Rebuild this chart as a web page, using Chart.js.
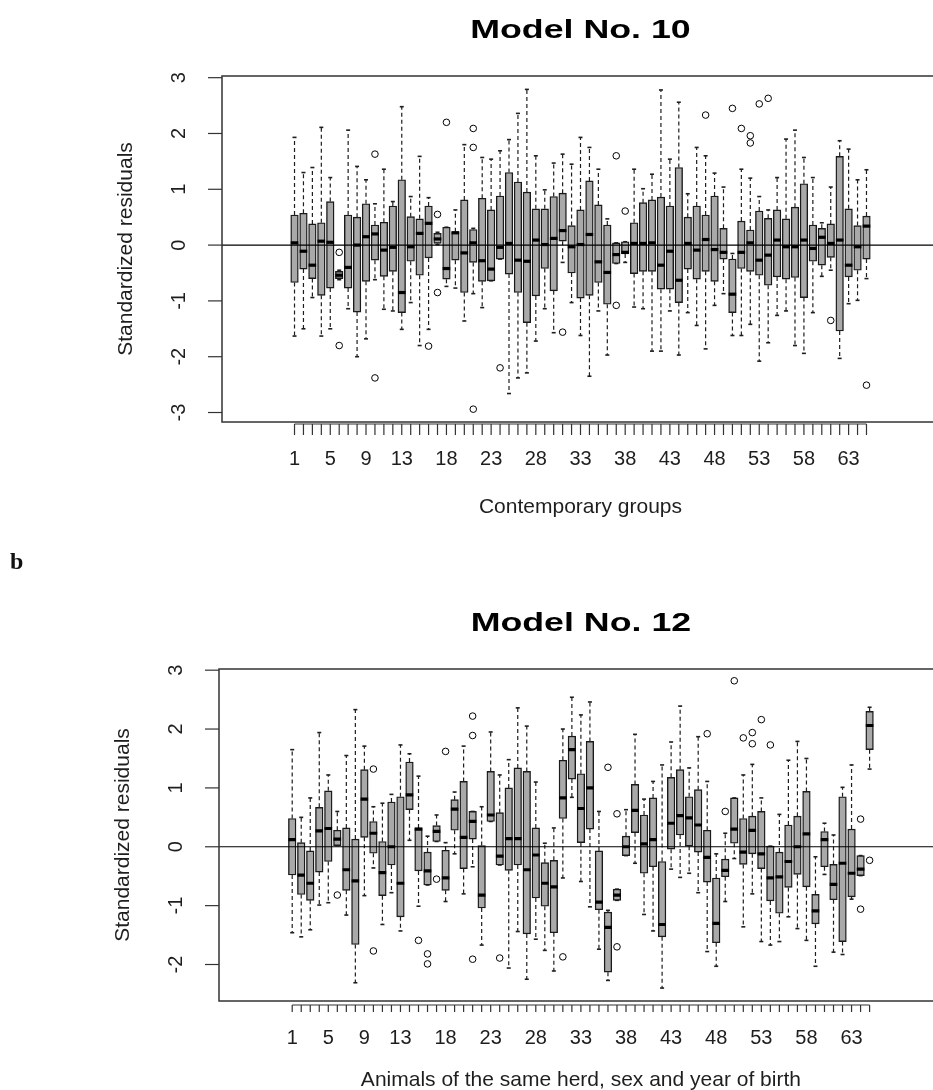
<!DOCTYPE html>
<html>
<head>
<meta charset="utf-8">
<script src="https://cdn.jsdelivr.net/npm/chart.js@4.4.1/dist/chart.umd.min.js"></script>
<style>
  html, body { margin: 0; padding: 0; background: #fff; width: 933px; height: 1090px; overflow: hidden; }
  .panel { position: absolute; left: 0; }
  #tag { position: absolute; left: 10px; top: 549px; font: bold 24px "Liberation Serif", "DejaVu Serif", serif; line-height: 24px; color: #111; }
</style>
</head>
<body>
<div class="panel" style="top:0"><canvas id="model10" width="950" height="540"></canvas></div>
<div class="panel" style="top:540px"><canvas id="model12" width="950" height="550"></canvas></div>
<div id="tag">b</div>

<script>
// groups on the x axis
const groups = [1,2,3,4,5,6,7,8,9,10,11,12,13,14,15,16,17,18,19,20,21,22,23,24,25,26,27,28,29,30,
  31,32,33,34,35,36,37,38,39,40,41,42,43,44,45,46,47,48,49,50,51,52,53,54,55,56,57,58,59,60,
  61,62,63,64,65];
const xTickLabels = [1,5,9,13,18,23,28,33,38,43,48,53,58,63];

// Model No. 10 - boxplot stats
const m10Low  = [-1.63,-1.50,-0.94,-1.63,-1.50,-0.62,-1.14,-2.00,-1.68,-0.62,-1.15,-1.18,-1.51,-1.03,-1.80,-1.51,0.01,-0.74,-0.77,-1.36,
  -0.87,-1.12,-0.64,-0.25,-2.66,-2.38,-2.29,-1.72,-1.14,-1.57,-0.31,-1.03,-1.62,-2.35,-1.18,-1.97,-0.33,-0.31,-1.11,-1.14,
  -1.90,-1.90,-1.18,-1.97,-1.21,-1.44,-1.86,-1.08,-0.87,-1.62,-1.62,-1.42,-2.08,-1.75,-1.26,-1.18,-1.80,-1.94,-1.21,-0.56,
  -0.45,-2.03,-1.05,-0.99,-0.60];
const m10Q1   = [-0.67,-0.43,-0.60,-0.90,-0.77,-0.60,-0.77,-1.20,-0.65,-0.27,-0.56,-0.47,-1.21,-0.29,-0.54,-0.23,0.03,-0.61,-0.27,-0.85,
  -0.31,-0.65,-0.64,-0.25,-0.52,-0.85,-1.39,-0.91,-0.42,-0.82,0.07,-0.50,-0.95,-0.90,-0.67,-1.06,-0.33,-0.16,-0.51,-0.47,
  -0.47,-0.79,-0.79,-1.03,-0.43,-0.61,-0.47,-0.65,-0.25,-1.21,-0.42,-0.47,-0.54,-0.72,-0.57,-0.61,-0.58,-0.94,-0.29,-0.36,
  -0.22,-1.54,-0.57,-0.45,-0.25];
const m10Med  = [0.04,-0.11,-0.36,0.07,0.05,-0.54,-0.40,0.00,0.15,0.20,-0.09,-0.04,-0.85,-0.03,0.21,0.39,0.11,-0.42,0.22,-0.14,
  0.04,-0.28,-0.43,-0.04,0.03,-0.27,-0.29,0.09,0.01,0.12,0.26,-0.03,0.01,0.19,-0.30,-0.49,-0.17,-0.13,0.03,0.03,
  0.04,-0.36,-0.11,-0.63,0.03,-0.09,0.10,-0.08,-0.13,-0.88,-0.13,0.04,-0.27,-0.18,0.09,-0.03,-0.03,0.09,-0.06,0.14,
  0.03,0.09,-0.36,-0.03,0.34];
const m10Q3   = [0.54,0.57,0.38,0.40,0.78,-0.47,0.54,0.50,0.74,0.36,0.41,0.70,1.17,0.51,0.47,0.70,0.21,0.32,0.24,0.81,
  0.28,0.84,0.63,0.88,1.30,1.13,0.95,0.65,0.65,0.87,0.93,0.35,0.63,1.15,0.72,0.36,0.04,0.06,0.40,0.76,
  0.81,0.86,0.70,1.39,0.50,0.70,0.54,0.88,0.30,-0.25,0.43,0.27,0.61,0.48,0.63,0.47,0.68,1.10,0.36,0.30,
  0.38,1.59,0.65,0.35,0.52];
const m10High = [1.93,1.30,1.39,2.11,1.21,-0.45,2.06,1.41,1.17,0.74,1.36,0.78,2.48,0.87,1.59,0.85,0.23,0.32,0.63,1.80,
  0.30,1.57,1.54,1.69,1.89,2.36,2.79,1.60,0.99,1.47,1.63,1.45,1.93,1.75,1.36,0.47,0.04,0.06,1.36,1.01,
  1.27,2.78,1.54,2.56,0.92,1.75,1.60,1.29,1.04,-0.15,1.36,1.20,0.87,0.63,1.21,1.90,2.06,1.57,1.21,0.40,
  1.04,1.87,1.72,1.17,1.35];
const m10OutGroup = [6,6,10,10,16,17,17,18,21,21,21,24,31,37,37,38,47,50,51,52,52,53,54,61,65];
const m10OutValue = [-0.13,-1.80,1.63,-2.38,-1.81,0.55,-0.85,2.20,2.09,1.75,-2.94,-2.20,-1.56,1.60,-1.08,0.61,2.33,2.45,2.09,1.96,1.83,2.53,2.63,-1.35,-2.51];
const m10YTicks = [-3,-2,-1,0,1,2,3];

// Model No. 12
const m12Low  = [-1.46,-1.53,-1.41,-0.99,-0.95,0.02,-1.16,-2.31,-0.83,-0.36,-1.32,-0.78,-1.43,0.11,-1.01,-0.65,0.09,-0.93,-0.12,-0.80,
  -0.34,-1.67,0.43,-0.31,-2.06,-1.44,-2.25,-1.57,-1.76,-2.11,-0.53,0.84,-0.59,-1.02,-1.74,-2.27,-0.91,-0.15,-0.28,-1.15,
  -1.43,-2.40,-0.38,-0.52,-0.45,-0.78,-1.78,-2.03,-0.93,-0.20,-1.36,-0.80,-1.61,-1.67,-1.61,-1.19,-1.39,-1.59,-2.03,-0.47,
  -1.79,-1.83,-0.89,-0.49,1.32];
const m12Q1   = [-0.48,-0.81,-0.91,-0.43,-0.25,0.02,-0.74,-1.66,0.16,-0.11,-0.83,-0.31,-1.19,0.63,-0.41,-0.65,0.09,-0.74,0.28,-0.37,
  0.13,-1.04,0.43,-0.31,-0.40,-0.31,-1.48,-0.87,-1.01,-1.46,0.48,1.15,0.07,0.30,-1.07,-2.13,-0.91,-0.15,0.24,-0.45,
  -0.34,-1.53,-0.04,0.20,0.01,-0.09,-0.60,-1.63,-0.51,0.06,-0.30,-0.12,-0.37,-0.92,-1.13,-0.69,-0.47,-0.68,-1.31,-0.34,
  -0.90,-1.61,-0.85,-0.49,1.65];
const m12Med  = [0.12,-0.48,-0.62,0.27,0.31,0.13,-0.39,-0.58,0.81,0.23,-0.44,0.00,-0.62,0.88,0.30,-0.41,0.26,-0.53,0.64,0.16,
  0.43,-0.82,0.54,-0.16,0.14,0.14,-0.39,-0.14,-0.62,-0.68,0.83,1.65,0.65,1.00,-0.94,-1.37,-0.82,0.00,0.62,0.05,
  0.12,-1.32,0.40,0.53,0.49,0.37,-0.18,-1.30,-0.40,0.30,-0.09,0.28,-0.12,-0.53,-0.51,-0.25,0.00,0.22,-1.09,0.12,
  -0.64,-0.28,-0.45,-0.38,2.06];
const m12Q3   = [0.48,0.07,-0.07,0.67,0.95,0.28,0.32,0.13,1.31,0.43,0.09,0.76,0.85,1.44,0.32,-0.09,0.36,-0.06,0.80,1.11,
  0.60,0.02,1.28,0.58,1.00,1.34,1.28,0.32,-0.27,-0.23,1.47,1.88,1.24,1.79,-0.07,-1.11,-0.72,0.18,1.06,0.54,
  0.83,-0.25,1.18,1.31,0.85,0.97,0.28,-0.53,-0.21,0.83,0.48,0.52,0.60,0.01,-0.09,0.37,0.52,0.94,-0.81,0.26,
  -0.30,0.85,0.30,-0.15,2.30];
const m12High = [1.65,0.50,0.83,1.94,1.22,0.60,1.55,2.33,1.71,0.68,0.74,0.89,1.73,1.58,1.20,0.18,0.54,0.07,0.93,1.71,
  0.60,0.68,1.95,1.22,1.48,2.36,2.05,1.10,0.06,0.32,2.00,2.54,2.24,2.46,0.60,-1.08,-0.72,0.63,1.91,0.81,
  1.11,1.39,1.78,2.39,1.34,1.87,1.11,-0.12,0.23,0.83,1.22,1.40,0.83,0.01,0.55,1.47,1.79,1.50,-0.17,0.40,
  0.20,1.01,1.39,-0.15,2.37];
const m12OutGroup = [6,10,10,15,16,16,17,18,21,21,21,24,31,36,37,37,47,49,50,51,52,52,53,54,64,64,65];
const m12OutValue = [-0.82,1.32,-1.77,-1.59,-1.82,-1.99,-0.55,1.62,2.22,1.89,-1.91,-1.89,-1.87,1.35,0.56,-1.70,1.92,0.60,2.82,1.85,1.94,1.75,2.16,1.73,0.47,-1.06,-0.23];
const m12YTicks = [-2,-1,0,1,2,3];

const sans = '"Liberation Sans", Arial, sans-serif';
const ink = '#1e1e1e';

// whiskers, zero line, frame, axes and texts (R boxplot look)
function boxExtras(p) {
  return {
    id: 'boxExtras',
    beforeDatasetsDraw(chart) {
      const ctx = chart.ctx, xs = chart.scales.x, ys = chart.scales.y;
      ctx.save();
      ctx.strokeStyle = ink;
      ctx.lineWidth = 1.2;
      ctx.setLineDash([4, 3]);
      groups.forEach((g, i) => {
        const x = xs.getPixelForValue(g);
        ctx.beginPath();
        ctx.moveTo(x, ys.getPixelForValue(p.q3[i]));
        ctx.lineTo(x, ys.getPixelForValue(p.high[i]));
        ctx.moveTo(x, ys.getPixelForValue(p.q1[i]));
        ctx.lineTo(x, ys.getPixelForValue(p.low[i]));
        ctx.stroke();
      });
      ctx.setLineDash([]);
      ctx.lineWidth = 1.6;
      groups.forEach((g, i) => {
        const x = xs.getPixelForValue(g);
        [p.high[i], p.low[i]].forEach(v => {
          const y = ys.getPixelForValue(v);
          ctx.beginPath();
          ctx.moveTo(x - 2, y);
          ctx.lineTo(x + 2, y);
          ctx.stroke();
        });
      });
      ctx.restore();
    },
    afterDatasetsDraw(chart) {
      const ctx = chart.ctx, a = chart.chartArea;
      const y0 = chart.scales.y.getPixelForValue(0);
      ctx.save();
      ctx.strokeStyle = '#000';
      ctx.lineWidth = 1.2;
      ctx.beginPath();
      ctx.moveTo(a.left, y0);
      ctx.lineTo(a.right, y0);
      ctx.stroke();
      ctx.restore();
    },
    afterDraw(chart) {
      const ctx = chart.ctx, a = chart.chartArea, xs = chart.scales.x, ys = chart.scales.y;
      ctx.save();
      ctx.strokeStyle = '#333';
      ctx.fillStyle = ink;
      ctx.lineWidth = 1.5;
      ctx.strokeRect(a.left, a.top, a.right - a.left, a.bottom - a.top);

      // y axis
      ctx.lineWidth = 1.2;
      ctx.font = '20px ' + sans;
      ctx.textAlign = 'center';
      ctx.textBaseline = 'middle';
      p.yTicks.forEach(t => {
        const y = ys.getPixelForValue(t);
        ctx.beginPath();
        ctx.moveTo(a.left - 14, y);
        ctx.lineTo(a.left, y);
        ctx.stroke();
        ctx.save();
        ctx.translate(a.left - 43, y);
        ctx.rotate(-Math.PI / 2);
        ctx.fillText(String(t), 0, 0);
        ctx.restore();
      });

      // x axis
      const ya = a.bottom + p.axisGap;
      ctx.beginPath();
      ctx.moveTo(xs.getPixelForValue(groups[0]), ya);
      ctx.lineTo(xs.getPixelForValue(groups[groups.length - 1]), ya);
      groups.forEach(g => {
        const x = xs.getPixelForValue(g);
        ctx.moveTo(x, ya);
        ctx.lineTo(x, ya + p.tickLen);
      });
      ctx.stroke();
      xTickLabels.forEach(t => {
        ctx.fillText(String(t), xs.getPixelForValue(t), a.bottom + 37);
      });

      // axis titles
      const cx = (a.left + a.right) / 2;
      ctx.font = '21px ' + sans;
      ctx.fillText(p.xTitle, cx, a.bottom + p.xTitleGap);
      ctx.save();
      ctx.translate(a.left - 96, (a.top + a.bottom) / 2);
      ctx.rotate(-Math.PI / 2);
      ctx.fillText('Standardized residuals', 0, 0);
      ctx.restore();

      // main title, stretched wide like the original
      ctx.save();
      ctx.fillStyle = '#000';
      ctx.translate(cx, a.top - 45);
      ctx.scale(1.43, 1);
      ctx.font = 'bold 25px ' + sans;
      ctx.fillText(p.title, 0, 0);
      ctx.restore();
      ctx.restore();
    }
  };
}

function buildPanel(id, p) {
  return new Chart(document.getElementById(id), {
    type: 'bar',
    data: {
      datasets: [{
        type: 'scatter',
        label: 'median',
        data: groups.map((g, i) => ({ x: g, y: p.med[i] })),
        pointStyle: 'line',
        pointRadius: 3.8,
        pointBorderWidth: 3.2,
        pointBorderColor: '#000',
        order: 0
      }, {
        type: 'bar',
        label: 'box',
        data: groups.map((g, i) => ({ x: g, y: [p.q1[i], p.q3[i]] })),
        backgroundColor: '#a9a9a9',
        borderColor: '#1a1a1a',
        borderWidth: 1.4,
        borderSkipped: false,
        barThickness: 7.6,
        order: 1
      }, {
        type: 'scatter',
        label: 'outliers',
        data: p.outG.map((g, i) => ({ x: g, y: p.outV[i] })),
        pointStyle: 'circle',
        pointRadius: 3.3,
        pointBorderWidth: 1,
        pointBorderColor: '#000',
        pointBackgroundColor: 'rgba(0,0,0,0)',
        order: 2
      }]
    },
    options: {
      responsive: false,
      animation: false,
      events: [],
      layout: { padding: p.pad },
      plugins: { legend: { display: false }, tooltip: { enabled: false } },
      scales: {
        x: { type: 'linear', min: -2.1, max: 68.1, display: false },
        y: { type: 'linear', min: p.yMin, max: p.yMax, display: false }
      }
    },
    plugins: [boxExtras(p)]
  });
}

buildPanel('model10', {
  title: 'Model No. 10', xTitle: 'Contemporary groups',
  low: m10Low, q1: m10Q1, med: m10Med, q3: m10Q3, high: m10High,
  outG: m10OutGroup, outV: m10OutValue, yTicks: m10YTicks,
  yMin: -3.17, yMax: 3.03,
  pad: { left: 222, right: 11, top: 76, bottom: 118 },
  axisGap: 2, tickLen: 11, xTitleGap: 85
});

buildPanel('model12', {
  title: 'Model No. 12', xTitle: 'Animals of the same herd, sex and year of birth',
  low: m12Low, q1: m12Q1, med: m12Med, q3: m12Q3, high: m12High,
  outG: m12OutGroup, outV: m12OutValue, yTicks: m12YTicks,
  yMin: -2.62, yMax: 3.02,
  pad: { left: 219, right: 7, top: 129, bottom: 89 },
  axisGap: 4, tickLen: 7, xTitleGap: 79
});
</script>
</body>
</html>
